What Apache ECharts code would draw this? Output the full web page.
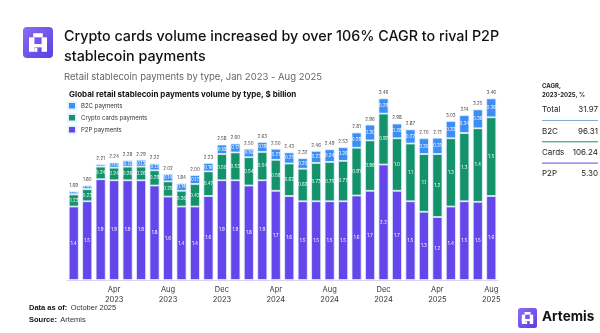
<!DOCTYPE html>
<html><head><meta charset="utf-8">
<script src="https://cdn.jsdelivr.net/npm/echarts@6/dist/echarts.min.js"></script>
<style>html,body{margin:0;padding:0;background:#fff}#c{width:600px;height:333px}</style>
</head><body><div id="c"></div>
<script>
const months = ['Jan 2023','Feb 2023','Mar 2023','Apr 2023','May 2023','Jun 2023','Jul 2023','Aug 2023','Sep 2023','Oct 2023','Nov 2023','Dec 2023',
 'Jan 2024','Feb 2024','Mar 2024','Apr 2024','May 2024','Jun 2024','Jul 2024','Aug 2024','Sep 2024','Oct 2024','Nov 2024','Dec 2024',
 'Jan 2025','Feb 2025','Mar 2025','Apr 2025','May 2025','Jun 2025','Jul 2025','Aug 2025'];
const totals = [1.69,1.80,2.21,2.24,2.28,2.29,2.22,2.02,1.84,2.00,2.23,2.58,2.60,2.50,2.63,2.50,2.43,2.32,2.46,2.49,2.53,2.81,2.96,3.46,2.98,2.87,2.70,2.71,3.03,3.14,3.25,3.46];
const b2c = [0.06,0.07,0.05,0.10,0.12,0.13,0.13,0.14,0.14,0.17,0.16,0.18,0.17,0.16,0.19,0.21,0.21,0.20,0.23,0.24,0.26,0.29,0.30,0.29,0.28,0.27,0.30,0.31,0.33,0.34,0.36,0.36];
const cards = [0.23,0.23,0.24,0.24,0.26,0.26,0.29,0.29,0.30,0.43,0.47,0.50,0.53,0.54,0.54,0.59,0.62,0.62,0.73,0.75,0.77,0.91,0.96,0.97,1.0,1.1,1.1,1.2,1.3,1.3,1.4,1.5];
const p2p = totals.map((t,i)=>+(t - b2c[i] - cards[i]).toFixed(2));
const tickMonths = ['Apr 2023','Aug 2023','Dec 2023','Apr 2024','Aug 2024','Dec 2024','Apr 2025','Aug 2025'];
const cagrLabels = ['Total','B2C','Cards','P2P'];
const cagrValues = ['31.97','96.31','106.24','5.30'];

const C_B2C = '#3d8ef2', C_CARD = '#14936b', C_P2P = '#6446ea';
const FONT = 'Inter, "Noto Sans", sans-serif';
const fmt = v => v >= 1 ? v.toFixed(1) : v.toFixed(2);

const chart = echarts.init(document.getElementById('c'), null, {renderer:'canvas'});
const inLabel = {show:true, position:'inside', color:'#fff', fontSize:4.5, fontFamily:FONT, formatter:p=>fmt(p.value)};
const itemBase = {borderColor:'#e6f2ff', borderWidth:0.8};

function logo(x,y,w,h,r){
  const sx=w/25, sy=h/30;
  const R=(a,b,c,d)=>({type:'rect',shape:{x:x+a*sx,y:y+b*sy,width:c*sx,height:d*sy},style:{fill:'#fff'}});
  return [
    {type:'rect',shape:{x:x,y:y,width:w,height:h,r:r},style:{fill:new echarts.graphic.LinearGradient(0,0,1,1,[{offset:0,color:'#8a6cf5'},{offset:1,color:'#5b3fe0'}])}},
    R(8.5,6,8,4), R(5,10,4.5,14), R(15.5,10,4.5,14), R(5,16.5,15,3.2), R(9.5,20,2.5,4)
  ];
}

const cagrGraphics = [];
const lineColors = ['#8aaed0', C_CARD, C_P2P];
cagrLabels.forEach((l,i)=>{
  const y = 111 + i*21.3;
  cagrGraphics.push({type:'text',left:542,top:y-5,style:{text:l,fontSize:8,fill:'#222',fontFamily:FONT}});
  cagrGraphics.push({type:'text',right:2,top:y-5,style:{text:cagrValues[i],fontSize:8,fill:'#222',fontFamily:FONT,textAlign:'right'}});
  if(i<3) cagrGraphics.push({type:'line',shape:{x1:542,y1:y+9.5,x2:598,y2:y+9.5},style:{stroke:lineColors[i],lineWidth:1}});
});

chart.setOption({
  animation:false,
  textStyle:{fontFamily:FONT},
  grid:{left:67,right:102,top:90,bottom:53},
  legend:{orient:'vertical',left:67,top:101,itemWidth:8,itemHeight:7.5,itemGap:2.5,icon:'rect',padding:0,
    textStyle:{fontSize:6,color:'#333',fontFamily:FONT,lineHeight:9},data:['B2C payments','Crypto cards payments','P2P payments']},
  xAxis:{type:'category',data:months,axisLine:{lineStyle:{color:'#d9d4f3',width:1}},axisTick:{show:false},
    axisLabel:{interval:0,fontSize:7.5,color:'#333',lineHeight:10,margin:5,
      formatter:v=>tickMonths.includes(v)?v.replace(' ','\n'):''}},
  yAxis:{type:'value',min:0,max:3.62,show:false},
  series:[
    {name:'P2P payments',type:'bar',stack:'s',data:p2p,barWidth:10,itemStyle:Object.assign({color:C_P2P},itemBase),label:inLabel},
    {name:'Crypto cards payments',type:'bar',stack:'s',data:cards,itemStyle:Object.assign({color:C_CARD},itemBase),label:inLabel},
    {name:'B2C payments',type:'bar',stack:'s',data:b2c,itemStyle:Object.assign({color:C_B2C},itemBase),label:inLabel},
    {name:'total',type:'bar',stack:'s',data:totals.map(()=>0),itemStyle:{color:'transparent'},
      label:{show:true,position:'top',distance:3,fontSize:4.5,color:'#444',fontFamily:FONT,formatter:p=>totals[p.dataIndex].toFixed(2)}}
  ],
  graphic:[
    ...logo(23,27,30,31,4),
    {type:'text',left:64,top:27,style:{text:'Crypto cards volume increased by over 106% CAGR to rival P2P\nstablecoin payments',fontSize:14.3,lineHeight:20,fontWeight:500,fill:'#111',fontFamily:FONT}},
    {type:'text',left:64,top:72,style:{text:'Retail stablecoin payments by type, Jan 2023 - Aug 2025',fontSize:9.5,fill:'#666',fontFamily:FONT}},
    {type:'text',left:69,top:91,style:{text:'Global retail stablecoin payments volume by type, $ billion',fontSize:8,fontWeight:'bold',fill:'#111',fontFamily:FONT}},
    {type:'text',left:542,top:82,style:{text:'CAGR,\n2023-2025, %',fontSize:6,lineHeight:9,fontWeight:'bold',fill:'#222',fontFamily:FONT}},
    ...cagrGraphics,
    {type:'text',left:29,top:302,style:{rich:{b:{fontWeight:'bold',fontSize:7.5,fill:'#111'},n:{fontSize:7.5,fill:'#333'}},text:'{b|Data as of:} {n|October 2025}',fontFamily:FONT}},
    {type:'text',left:29,top:314,style:{rich:{b:{fontWeight:'bold',fontSize:7.5,fill:'#111'},n:{fontSize:7.5,fill:'#333'}},text:'{b|Source:} {n|Artemis}',fontFamily:FONT}},
    ...logo(518,308,19,20,2.5),
    {type:'text',left:542,top:310,style:{text:'Artemis',fontSize:13.5,fontWeight:'bold',fill:'#111',fontFamily:FONT}}
  ]
});
</script></body></html>
